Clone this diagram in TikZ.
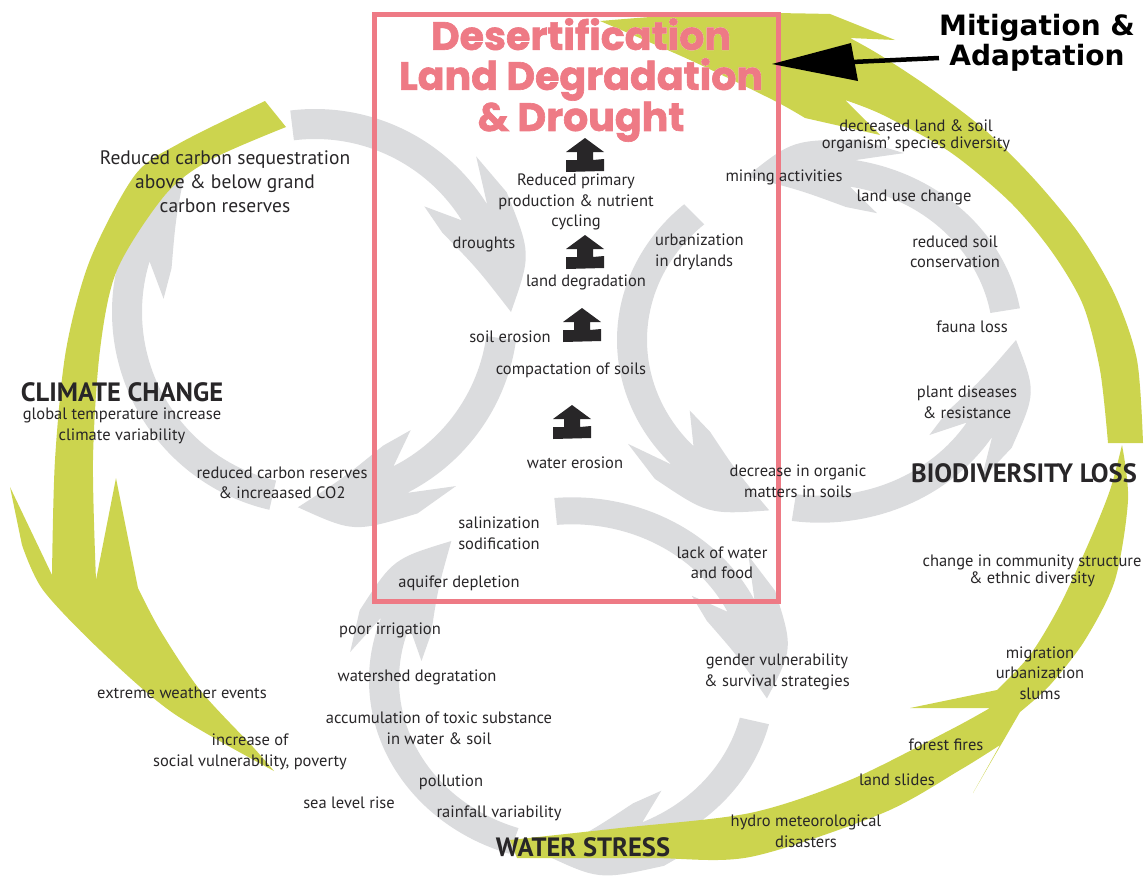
\documentclass[tikz,border=0pt]{standalone}
\usepackage{fontspec}
\setmainfont{PT Sans}
\newfontfamily\titlefont{Poppins}[BoldFeatures={FakeBold=1.6}]
\newfontfamily\mitfont{DejaVu Sans}
\definecolor{leaf}{RGB}{204,212,78}
\definecolor{mist}{RGB}{219,220,222}
\definecolor{rose}{RGB}{238,122,133}
\definecolor{ink}{RGB}{40,38,40}

% white outline for the title (stroke drawn around the glyphs)
\newcommand\haloon{\special{pdf:literal direct 2 Tr 7 w 1 J 1 j 1 1 1 RG 1 1 1 rg}}
\newcommand\halooff{\special{pdf:literal direct 0 Tr 1 w}}

% one grey circular arrow around centre (#2,#3), vertical squash #1,
% from angle #4 to tip angle #5
\newcommand\mistarrow[5][1]{%
  \begin{scope}[shift={(#2,#3)}, yscale=#1]
    \pgfmathsetmacro\mS{#4}%
    \pgfmathsetmacro\mT{#5}%
    \pgfmathsetmacro\mD{(#5>#4)?1:-1}%
    \pgfmathsetmacro\mN{\mT-\mD*32}%
    \pgfmathsetmacro\mB{\mT-\mD*44}%
    \pgfmathsetmacro\mM{\mT-\mD*15}%
    \fill[mist] (\mS:203) arc[start angle=\mS, end angle=\mN, radius=203]
      -- (\mB:224) -- (\mN:226)
      .. controls (\mM:224) .. (\mT:196)
      .. controls (\mM:168) .. (\mN:150)
      -- (\mB:152) -- (\mN:173)
      arc[start angle=\mN, end angle=\mS, radius=173] -- cycle;
  \end{scope}}

\begin{document}
\begin{tikzpicture}[x=1pt,y=-1pt,
  lbl/.style={font=\fontsize{16.5}{20.5}\selectfont, text=ink, align=center, inner sep=0pt},
  lblbig/.style={font=\fontsize{19.5}{24}\selectfont, text=ink, align=center, inner sep=0pt},
  topic/.style={font=\bfseries\fontsize{26.5}{28}\selectfont, text=ink, inner sep=0pt},
  titletext/.style={font=\titlefont\bfseries\fontsize{39.5}{40}\selectfont, align=center, inner sep=0pt},
  uparrow/.pic={\fill[ink] (0,0) -- (19,14) -- (8,14) -- (8,22) -- (19,21) -- (19,33)
      -- (-19,34) -- (-19,22) -- (-8,22) -- (-8,14) -- (-19,14) -- cycle;}]
\useasboundingbox (0,0) rectangle (1147,876);

% ---- grey cycles: climate (left), biodiversity (right), water (bottom)
\mistarrow{315}{312}{-97}{0}
\mistarrow{315}{312}{8}{95}
\mistarrow{315}{312}{103}{229}
\mistarrow[0.9]{820}{340}{-10}{-112}
\mistarrow[0.9]{820}{340}{228}{105}
\mistarrow[0.9]{820}{340}{98}{0}
\mistarrow[0.9]{572}{680}{-95}{6}
\mistarrow[0.9]{572}{680}{14}{98}
\mistarrow[0.9]{572}{680}{108}{232}

% ---- outer green cycle
% left arrow: climate change down to social vulnerability
\fill[leaf] (265,101)
  -- plot[smooth] coordinates {(265,101) (180,143) (135,175) (90,260) (66,350) (55,460) (52,575)}
  -- (10,487) -- (22,545)
  -- plot[smooth] coordinates {(22,545) (43,590) (100,650) (173,713) (274,771)}
  -- plot[smooth] coordinates {(274,771) (253,747) (200,690) (160,630) (138,588)}
  -- (116,478) -- (96,580)
  -- plot[smooth] coordinates {(96,580) (93,460) (100,350) (117,270) (165,195) (210,160) (286,127)}
  -- cycle;
% bottom arrow: water stress up to biodiversity loss
\fill[leaf] (510,840)
  -- plot[smooth] coordinates {(510,840) (620,828) (750,813) (850,780) (950,730) (990,708)}
  -- (910,708) -- (997,690)
  -- plot[smooth] coordinates {(997,690) (1030,655) (1060,605) (1090,540) (1110,490) (1122,445)}
  -- plot[smooth] coordinates {(1122,445) (1128,500) (1115,580) (1085,640) (1050,685) (1020,712)}
  -- (973,793) -- (1000,745)
  -- plot[smooth] coordinates {(1000,745) (960,770) (883,813) (750,857) (650,858) (517,858)}
  -- cycle;
% top arrow: biodiversity loss over to the central box
\fill[leaf] (1143,443)
  -- plot[smooth] coordinates {(1143,443) (1137,360) (1115,295) (1080,235) (1035,180) (985,130) (930,88) (880,55) (850,38)}
  -- (895,40) -- (830,14)
  -- plot[smooth] coordinates {(830,14) (760,13) (680,15) (600,21)}
  -- plot[smooth] coordinates {(600,21) (690,60) (773,100) (805,118)}
  -- (880,135) -- (845,100)
  -- plot[smooth] coordinates {(845,100) (883,115) (950,152) (1010,202) (1052,252) (1083,305) (1100,370) (1108,443)}
  -- cycle;

% ---- central box
\draw[rose, line width=5] (374,14.5) rectangle (778.5,601);

% ---- title with white outline
\node[titletext, text=white] (halo) at (581,80) {\haloon Desertification\\Land Degradation\\\& Drought\halooff};
\node[titletext, text=rose] (title) at (581,80) {Desertification\\Land Degradation\\\& Drought};

% ---- mitigation pointer
\node[font=\mitfont\bfseries\fontsize{28}{30}\selectfont, text=black, align=center, inner sep=0pt] (mit) at (1037,43) {Mitigation \&\\Adaptation};
\coordinate (mtip) at (772,64);
\draw[line width=4.5] (mit.west |- 0,58) -- (852,62);
\fill[black] (mtip) -- (851,43) -- (858,81) -- cycle;

% ---- black steps inside the box
\pic at (585,138) {uparrow};
\pic at (585,235) {uparrow};
\pic at (582,308) {uparrow};
\pic at (572,405) {uparrow};

% ---- topics
\node[topic] (cc) at (122,392) {CLIMATE CHANGE};
\node[topic] (bl) at (1024,473) {BIODIVERSITY LOSS};
\node[topic] (ws) at (583,847) {WATER STRESS};

% ---- labels
\node[lblbig] (seq) at (225,182) {Reduced carbon sequestration\\above \& below grand\\carbon reserves};
\node[lbl] (glob) at (122,426) {global temperature increase\\climate variability};
\node[lbl] (co2) at (282,483) {reduced carbon reserves\\\& increaased CO2};
\node[lbl] (dro) at (484,244) {droughts};
\node[lbl] (npp) at (576,202) {Reduced primary\\production \& nutrient\\cycling};
\node[lbl, align=left, anchor=west] (urb) at (655,252) {urbanization\\in drylands};
\node[lbl] (ldeg) at (586,282) {land degradation};
\node[lbl] (soil) at (510,337) {soil erosion};
\node[lbl] (comp) at (571,370) {compactation of soils};
\node[lbl] (wer) at (575,463) {water erosion};
\node[lbl] (sal) at (499,533) {salinization\\sodification};
\node[lbl] (aqu) at (459,583) {aquifer depletion};
\node[lbl] (lack) at (722,563) {lack of water\\and food};
\node[lbl] (org) at (798,481) {decrease in organic\\matters in soils};
\node[lbl] (mine) at (784,177) {mining activities};
\node[lbl] (div) at (916,136) {decreased land \& soil\\[-3pt]organism' species diversity};
\node[lbl] (luc) at (914,197) {land use change};
\node[lbl] (rsc) at (955,252) {reduced soil\\conservation};
\node[lbl] (fau) at (972,327) {fauna loss};
\node[lbl] (pla) at (967,402) {plant diseases\\\& resistance};
\node[lbl] (comm) at (1032,571) {change in community structure\\[-3pt]\& ethnic diversity};
\node[lbl] (mig) at (1040,673) {migration\\urbanization\\slums};
\node[lbl] (fire) at (946,745) {forest fires};
\node[lbl] (slid) at (897,780) {land slides};
\node[lbl] (hyd) at (806,831) {hydro meteorological\\disasters};
\node[lbl] (gen) at (777,672) {gender vulnerability\\\& survival strategies};
\node[lbl] (irr) at (390,630) {poor irrigation};
\node[lbl] (wsh) at (417,677) {watershed degratation};
\node[lbl] (tox) at (439,728) {accumulation of toxic substance\\in water \& soil};
\node[lbl] (pol) at (451,782) {pollution};
\node[lbl] (sea) at (349,803) {sea level rise};
\node[lbl] (rain) at (499,813) {rainfall variability};
\node[lbl] (ext) at (182,693) {extreme weather events};
\node[lbl] (soc) at (250,752) {increase of\\social vulnerability, poverty};
\end{tikzpicture}
\end{document}
